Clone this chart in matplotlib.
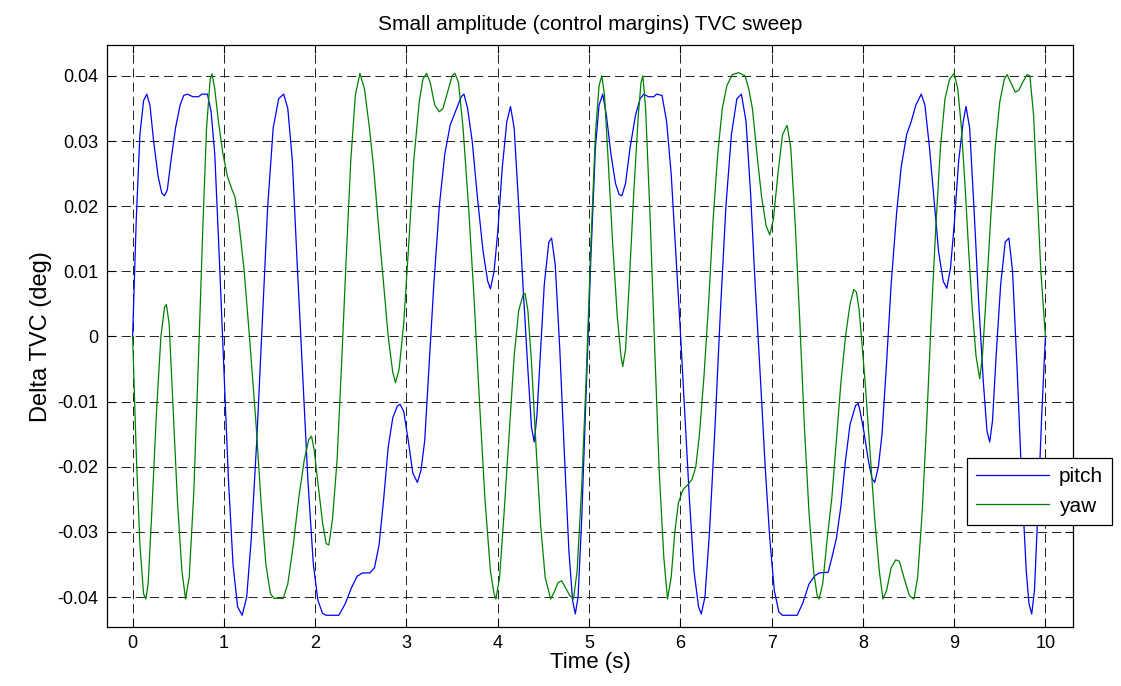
import matplotlib
matplotlib.use('Agg')
import matplotlib.pyplot as plt
import numpy as np

plt.rcParams['font.family'] = ['Liberation Sans', 'DejaVu Sans']

# pitch channel (time s, delta TVC deg)
pitch_t = [0.00, 0.04, 0.08, 0.12, 0.155, 0.19, 0.23, 0.28, 0.32, 0.35, 0.38, 0.42, 0.47, 0.52, 0.56, 0.60,
           0.66, 0.72, 0.76, 0.82, 0.86, 0.90, 0.95, 1.00, 1.05, 1.10, 1.15, 1.20, 1.25, 1.30, 1.36, 1.42,
           1.48, 1.54, 1.60, 1.655, 1.70, 1.75, 1.80, 1.86, 1.92, 1.98, 2.03, 2.08, 2.12, 2.26, 2.33, 2.40,
           2.46, 2.52, 2.60, 2.65, 2.70, 2.75, 2.80, 2.85, 2.90, 2.93, 2.97, 3.02, 3.07, 3.12, 3.16, 3.20,
           3.25, 3.30, 3.36, 3.42, 3.48, 3.55, 3.60, 3.63, 3.67, 3.72, 3.78, 3.84, 3.89, 3.92, 3.96, 4.00,
           4.05, 4.10, 4.14, 4.18, 4.23, 4.28, 4.33, 4.37, 4.40, 4.43, 4.47, 4.51, 4.56, 4.59, 4.63, 4.68,
           4.73, 4.78, 4.82, 4.85, 4.88, 4.92, 4.97, 5.02, 5.07, 5.11, 5.15, 5.19, 5.24, 5.29, 5.33, 5.36,
           5.40, 5.45, 5.51, 5.56, 5.60, 5.65, 5.71, 5.74, 5.80, 5.85, 5.90, 5.95, 6.00, 6.05, 6.10, 6.15,
           6.20, 6.23, 6.27, 6.32, 6.38, 6.44, 6.50, 6.56, 6.62, 6.67, 6.72, 6.77, 6.82, 6.88, 6.93, 6.98,
           7.03, 7.08, 7.12, 7.28, 7.34, 7.41, 7.47, 7.52, 7.62, 7.66, 7.71, 7.76, 7.81, 7.86, 7.92, 7.95,
           7.97, 8.01, 8.06, 8.10, 8.13, 8.17, 8.21, 8.26, 8.31, 8.37, 8.42, 8.48, 8.53, 8.58, 8.64, 8.68,
           8.73, 8.78, 8.83, 8.88, 8.92, 8.96, 9.00, 9.05, 9.10, 9.13, 9.17, 9.22, 9.27, 9.32, 9.36, 9.39,
           9.42, 9.46, 9.51, 9.56, 9.60, 9.64, 9.69, 9.74, 9.79, 9.82, 9.85, 9.88, 9.92, 9.96, 10.00]
pitch_v = [0.000, 0.018, 0.031, 0.0362, 0.0372, 0.0355, 0.030, 0.0245, 0.0220, 0.0216, 0.0225, 0.027, 0.032,
           0.0355, 0.0370, 0.0372, 0.0368, 0.0368, 0.0372, 0.0372, 0.0345, 0.028, 0.012, -0.005, -0.022,
           -0.035, -0.0415, -0.0428, -0.040, -0.031, -0.016, 0.002, 0.020, 0.032, 0.0365, 0.0372, 0.035,
           0.027, 0.012, -0.005, -0.022, -0.035, -0.0405, -0.0425, -0.0428, -0.0428, -0.0410, -0.0385,
           -0.0368, -0.0363, -0.0363, -0.0355, -0.032, -0.025, -0.017, -0.0125, -0.0107, -0.0104, -0.0115,
           -0.016, -0.021, -0.0224, -0.0205, -0.016, -0.004, 0.008, 0.020, 0.028, 0.0325, 0.035, 0.0368,
           0.0372, 0.035, 0.030, 0.021, 0.013, 0.0085, 0.0073, 0.010, 0.016, 0.026, 0.033, 0.0353, 0.032,
           0.020, 0.007, -0.005, -0.014, -0.0162, -0.012, -0.002, 0.008, 0.0145, 0.0151, 0.011, -0.002,
           -0.018, -0.033, -0.0405, -0.0426, -0.040, -0.028, -0.008, 0.012, 0.029, 0.0355, 0.0372, 0.034,
           0.028, 0.0235, 0.0218, 0.0216, 0.0235, 0.029, 0.034, 0.0365, 0.0372, 0.0368, 0.0368, 0.0372,
           0.037, 0.033, 0.025, 0.013, 0.001, -0.012, -0.025, -0.036, -0.0415, -0.0426, -0.040, -0.030,
           -0.014, 0.004, 0.020, 0.031, 0.0365, 0.0372, 0.033, 0.022, 0.008, -0.007, -0.020, -0.031,
           -0.039, -0.0423, -0.0428, -0.0428, -0.041, -0.038, -0.0368, -0.0363, -0.0362, -0.034, -0.031,
           -0.026, -0.019, -0.0135, -0.0106, -0.0103, -0.0115, -0.0145, -0.019, -0.0218, -0.0224, -0.020,
           -0.015, -0.004, 0.008, 0.019, 0.026, 0.031, 0.033, 0.0355, 0.0372, 0.0355, 0.029, 0.021, 0.013,
           0.0085, 0.0074, 0.0105, 0.017, 0.027, 0.033, 0.0353, 0.032, 0.019, 0.005, -0.007, -0.0145,
           -0.0162, -0.013, -0.003, 0.008, 0.0145, 0.0151, 0.010, -0.005, -0.022, -0.036, -0.041, -0.0426,
           -0.039, -0.026, -0.012, 0.000]

# yaw channel
yaw_t = [0.00, 0.04, 0.08, 0.12, 0.145, 0.17, 0.21, 0.26, 0.31, 0.35, 0.37, 0.40, 0.44, 0.49, 0.54, 0.58,
         0.62, 0.67, 0.72, 0.77, 0.81, 0.85, 0.87, 0.90, 0.94, 0.99, 1.04, 1.09, 1.12, 1.16, 1.22, 1.28,
         1.35, 1.41, 1.46, 1.51, 1.55, 1.65, 1.70, 1.76, 1.82, 1.88, 1.93, 1.96, 1.99, 2.03, 2.08, 2.12,
         2.15, 2.19, 2.24, 2.29, 2.34, 2.39, 2.44, 2.49, 2.54, 2.59, 2.64, 2.70, 2.75, 2.80, 2.85, 2.88,
         2.92, 2.97, 3.02, 3.08, 3.14, 3.18, 3.22, 3.26, 3.31, 3.36, 3.40, 3.45, 3.50, 3.53, 3.57, 3.62,
         3.68, 3.74, 3.80, 3.86, 3.92, 3.96, 3.98, 4.02, 4.07, 4.13, 4.18, 4.23, 4.28, 4.30, 4.33, 4.37,
         4.42, 4.47, 4.52, 4.58, 4.62, 4.66, 4.70, 4.74, 4.79, 4.83, 4.87, 4.92, 4.97, 5.02, 5.07, 5.11,
         5.14, 5.17, 5.21, 5.26, 5.31, 5.35, 5.37, 5.40, 5.44, 5.49, 5.54, 5.57, 5.59, 5.62, 5.67, 5.72,
         5.77, 5.82, 5.86, 5.90, 5.94, 5.98, 6.03, 6.08, 6.13, 6.17, 6.21, 6.26, 6.31, 6.36, 6.41, 6.46,
         6.51, 6.57, 6.64, 6.71, 6.75, 6.79, 6.84, 6.89, 6.94, 6.98, 7.02, 7.07, 7.12, 7.17, 7.21, 7.26,
         7.31, 7.36, 7.41, 7.46, 7.50, 7.52, 7.56, 7.61, 7.66, 7.71, 7.76, 7.81, 7.86, 7.90, 7.93, 7.96,
         7.99, 8.03, 8.08, 8.13, 8.18, 8.22, 8.26, 8.31, 8.36, 8.40, 8.45, 8.51, 8.56, 8.60, 8.65, 8.70,
         8.75, 8.80, 8.85, 8.90, 8.95, 9.00, 9.04, 9.08, 9.12, 9.16, 9.20, 9.24, 9.28, 9.31, 9.35, 9.40,
         9.45, 9.50, 9.55, 9.58, 9.62, 9.67, 9.71, 9.75, 9.80, 9.83, 9.87, 9.91, 9.95, 10.00]
yaw_v = [0.000, -0.018, -0.032, -0.0395, -0.0403, -0.038, -0.027, -0.012, 0.000, 0.0045, 0.0049, 0.002,
         -0.010, -0.025, -0.036, -0.0403, -0.037, -0.024, -0.004, 0.017, 0.032, 0.0395, 0.0403, 0.038,
         0.033, 0.028, 0.0245, 0.0225, 0.0215, 0.018, 0.0104, 0.000, -0.013, -0.026, -0.035, -0.0395,
         -0.0402, -0.0402, -0.038, -0.032, -0.0248, -0.019, -0.0158, -0.0153, -0.0175, -0.0225, -0.0285,
         -0.0318, -0.032, -0.028, -0.019, -0.004, 0.012, 0.027, 0.037, 0.0404, 0.038, 0.0325, 0.026,
         0.016, 0.008, 0.000, -0.0055, -0.0071, -0.005, 0.002, 0.013, 0.027, 0.036, 0.0395, 0.0404,
         0.039, 0.0355, 0.0345, 0.035, 0.0375, 0.040, 0.0404, 0.039, 0.032, 0.020, 0.006, -0.010,
         -0.025, -0.036, -0.0395, -0.0403, -0.037, -0.027, -0.014, -0.003, 0.004, 0.0065, 0.0066, 0.004,
         -0.004, -0.017, -0.029, -0.037, -0.0403, -0.0392, -0.0378, -0.0375, -0.0385, -0.0398, -0.0403,
         -0.036, -0.023, -0.006, 0.014, 0.031, 0.0385, 0.040, 0.037, 0.027, 0.014, 0.003, -0.003, -0.0046,
         -0.002, 0.008, 0.022, 0.034, 0.039, 0.040, 0.035, 0.018, -0.002, -0.021, -0.034, -0.0403,
         -0.037, -0.030, -0.0255, -0.0235, -0.0228, -0.0219, -0.020, -0.015, -0.006, 0.005, 0.018,
         0.028, 0.035, 0.0385, 0.0402, 0.0405, 0.0400, 0.038, 0.035, 0.028, 0.0215, 0.017, 0.0156,
         0.018, 0.025, 0.031, 0.0324, 0.029, 0.017, 0.002, -0.014, -0.027, -0.036, -0.0398, -0.0403,
         -0.038, -0.031, -0.0248, -0.016, -0.007, 0.000, 0.005, 0.0072, 0.0068, 0.004, -0.001, -0.008,
         -0.018, -0.028, -0.036, -0.0403, -0.039, -0.0355, -0.0343, -0.0345, -0.037, -0.0398, -0.0403,
         -0.037, -0.027, -0.013, 0.003, 0.017, 0.029, 0.0365, 0.0395, 0.0404, 0.038, 0.032, 0.023,
         0.013, 0.004, -0.003, -0.0065, -0.003, 0.006, 0.018, 0.029, 0.036, 0.0395, 0.0402, 0.039,
         0.0375, 0.0378, 0.039, 0.0402, 0.040, 0.034, 0.022, 0.010, 0.000]

x_ticks = list(range(0, 11))
y_ticks = [-0.04, -0.03, -0.02, -0.01, 0, 0.01, 0.02, 0.03, 0.04]
y_tick_labels = ['-0.04', '-0.03', '-0.02', '-0.01', '0', '0.01', '0.02', '0.03', '0.04']

fig = plt.figure(figsize=(11.21, 6.86), dpi=100)
ax = fig.add_axes([0.0955, 0.086, 0.8615, 0.848])

ax.plot(pitch_t, pitch_v, color='#0000ff', lw=0.9, solid_joinstyle='round', label='pitch')
ax.plot(yaw_t, yaw_v, color='#008000', lw=0.9, solid_joinstyle='round', label='yaw')

ax.set_xlim(-0.28, 10.3)
ax.set_ylim(-0.0446, 0.0447)
ax.set_xticks(x_ticks)
ax.set_yticks(y_ticks)
ax.set_yticklabels(y_tick_labels)
ax.grid(True, color='#222222', linestyle=(0, (9.5, 5)), linewidth=0.7)
ax.tick_params(direction='in', top=True, right=True, length=6, width=0.8, labelsize=13, pad=6)
for s in ax.spines.values():
    s.set_linewidth(0.9)

ax.set_title('Small amplitude (control margins) TVC sweep', fontsize=15, pad=11)
ax.set_xlabel('Time (s)', fontsize=16, labelpad=0)
ax.set_ylabel('Delta TVC (deg)', fontsize=17, labelpad=4)

leg = ax.legend(loc='upper left', bbox_to_anchor=(967 / 1121, 1 - 458 / 686),
                bbox_transform=fig.transFigure, borderaxespad=0, fancybox=False,
                edgecolor='k', framealpha=1, fontsize=15, handlelength=3.5,
                labelspacing=0.5, borderpad=0.45, handletextpad=0.45)
leg.get_frame().set_linewidth(0.9)

fig.savefig('out.png', dpi=100)
